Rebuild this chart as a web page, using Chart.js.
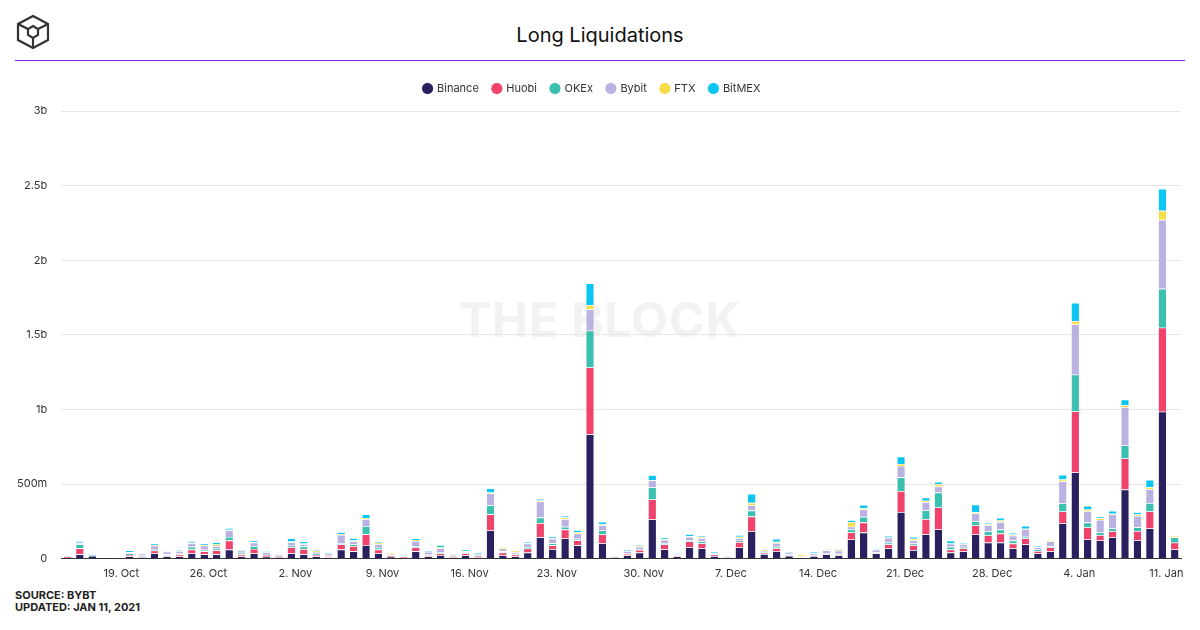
<!DOCTYPE html>
<html><head><meta charset="utf-8">
<script src="https://cdn.jsdelivr.net/npm/chart.js@4"></script>
<style>
body{margin:0;width:1200px;height:630px;background:#fff;font-family:Inter,"Open Sans",sans-serif;position:relative;overflow:hidden}
#title{position:absolute;top:23px;left:0;width:1200px;text-align:center;font-size:20px;color:#111}
#rule{position:absolute;top:60px;left:15px;width:1170px;height:1px;background:#9b1fe8}
#wm{position:absolute;top:290px;left:0;width:1200px;text-align:center;font-size:48px;font-weight:bold;color:#f2f2f2;letter-spacing:1px}
#wrap{position:absolute;top:69px;left:0;width:1196px;height:519px}
#foot{position:absolute;left:15px;top:589px;font-size:11px;font-weight:bold;color:#222;line-height:12px}
#logo{position:absolute;left:15px;top:14px}
</style></head><body>
<svg id="logo" width="36" height="36" viewBox="0 0 36 36"><g fill="none" stroke="#333" stroke-width="2.2"><polygon points="18,2 33,10 33,26 18,34 3,26 3,10"/><polygon points="18,12 23,15 23,21 18,24 13,21 13,15"/><line x1="3" y1="10" x2="13" y2="15"/><line x1="33" y1="10" x2="23" y2="15"/><line x1="18" y1="34" x2="18" y2="24"/></g></svg>
<div id="title">Long Liquidations</div>
<div id="rule"></div>
<div id="wm">THE BLOCK</div>
<div id="wrap"><canvas id="c"></canvas></div>
<div id="foot">SOURCE: BYBT<br>UPDATED: JAN 11, 2021</div>
<script>
const categories = [
"15. Oct","16. Oct","17. Oct","18. Oct","19. Oct","20. Oct","21. Oct","22. Oct","23. Oct","24. Oct","25. Oct","26. Oct","27. Oct","28. Oct","29. Oct","30. Oct","31. Oct",
"1. Nov","2. Nov","3. Nov","4. Nov","5. Nov","6. Nov","7. Nov","8. Nov","9. Nov","10. Nov","11. Nov","12. Nov","13. Nov","14. Nov","15. Nov","16. Nov","17. Nov","18. Nov","19. Nov","20. Nov","21. Nov","22. Nov","23. Nov","24. Nov","25. Nov","26. Nov","27. Nov","28. Nov","29. Nov","30. Nov",
"1. Dec","2. Dec","3. Dec","4. Dec","5. Dec","6. Dec","7. Dec","8. Dec","9. Dec","10. Dec","11. Dec","12. Dec","13. Dec","14. Dec","15. Dec","16. Dec","17. Dec","18. Dec","19. Dec","20. Dec","21. Dec","22. Dec","23. Dec","24. Dec","25. Dec","26. Dec","27. Dec","28. Dec","29. Dec","30. Dec","31. Dec",
"1. Jan","2. Jan","3. Jan","4. Jan","5. Jan","6. Jan","7. Jan","8. Jan","9. Jan","10. Jan","11. Jan","12. Jan"];
const tickLabels = ["19. Oct","26. Oct","2. Nov","9. Nov","16. Nov","23. Nov","30. Nov","7. Dec","14. Dec","21. Dec","28. Dec","4. Jan","11. Jan"];
const binance = [6,30,20,0,0,16,10,36,16,16,36,30,30,62,16,36,14,
6,36,30,16,8,62,50,92,36,14,6,50,16,24,10,22,10,190,22,16,42,144,64,136,90,833,103,10,22,42,
264,63,16,76,69,18,4,76,185,31,51,20,9,18,29,22,130,176,36,69,313,58,163,197,42,49,163,109,109,69,96,
36,49,237,578,130,123,143,464,123,203,985,63];
const huobi = [8,40,0,0,0,10,6,18,6,12,26,20,26,60,12,30,12,
6,40,34,10,10,34,34,72,26,8,6,26,8,12,8,14,10,108,20,12,26,94,26,60,34,449,60,0,11,18,
134,33,4,40,34,9,6,36,98,9,18,4,2,4,5,9,47,67,4,27,141,33,103,147,20,20,60,47,60,33,40,
16,27,80,409,80,36,42,208,63,114,563,45];
const okex = [2,26,6,0,0,10,6,6,8,8,18,10,12,24,12,18,4,
2,12,18,8,4,8,12,54,12,2,2,8,6,8,2,6,0,60,8,6,10,38,14,18,10,246,27,5,5,6,
80,9,4,9,13,3,0,9,40,4,11,4,2,4,4,5,20,38,4,13,92,11,58,100,18,11,27,27,27,20,11,
11,7,54,246,33,18,18,87,25,56,261,36];
const bybit = [6,8,0,0,0,6,12,28,18,16,24,28,16,44,14,24,14,
12,22,16,12,12,56,20,48,24,6,4,36,16,28,8,8,8,80,18,10,24,108,30,52,34,143,36,3,13,14,
47,22,4,22,22,6,8,18,36,9,25,13,4,9,18,18,18,49,18,31,76,22,56,40,22,18,54,40,49,33,51,
13,33,147,337,74,83,94,257,76,94,462,4];
const ftx = [4,4,0,0,0,4,0,4,2,4,4,4,12,4,2,4,2,
2,6,4,8,2,4,6,8,10,10,0,4,2,6,0,2,0,6,10,10,4,6,4,10,10,29,5,0,3,8,
3,5,2,4,8,2,2,8,16,6,9,2,10,2,3,9,31,9,2,2,13,11,9,16,0,2,9,9,11,7,4,
4,9,13,22,13,11,4,13,9,13,60,9];
const bitmex = [0,10,2,0,0,10,2,10,6,6,10,10,14,12,6,10,4,
2,20,14,8,6,14,16,24,8,2,4,12,4,14,6,10,12,28,0,0,8,12,10,12,14,145,17,2,9,4,
32,9,8,14,8,9,0,12,60,4,20,4,0,10,4,4,13,22,5,12,49,11,20,16,20,7,49,9,18,11,18,
7,2,31,123,25,11,20,38,16,49,147,2];
const yTicks = {0:"0",500:"500m",1000:"1b",1500:"1.5b",2000:"2b",2500:"2.5b",3000:"3b"};
const series = [["Binance",binance,"#2a2060"],["Huobi",huobi,"#f0436b"],["OKEx",okex,"#3bbfae"],["Bybit",bybit,"#b9b2e2"],["FTX",ftx,"#f8dc48"],["BitMEX",bitmex,"#0bc6f2"]];
Chart.defaults.font.family = "Inter, 'Open Sans', sans-serif";
const legendPad = {id:'legendPad',beforeInit(chart){const fit=chart.legend.fit;chart.legend.fit=function(){fit.call(this);this.height+=7;};}};
new Chart(document.getElementById('c'), {
  type:'bar',
  data:{labels:categories, datasets:series.map(s=>({label:s[0],data:s[1],backgroundColor:s[2],borderColor:'#ffffff',borderWidth:{top:0.6,bottom:0,left:0,right:0},barPercentage:0.6,categoryPercentage:1}))},
  plugins:[legendPad],
  options:{responsive:true,maintainAspectRatio:false,animation:false,
    layout:{padding:{left:3,right:15,top:0,bottom:0}},
    plugins:{legend:{position:'top',labels:{usePointStyle:true,pointStyle:'circle',boxWidth:8,boxHeight:8,padding:14,color:'#333',font:{size:11}}},tooltip:{enabled:false}},
    scales:{
      x:{stacked:true,grid:{display:false,drawTicks:false},border:{color:'#333'},
         ticks:{autoSkip:false,maxRotation:0,labelOffset:4,color:'#333',font:{size:11},padding:8,callback:function(v){const l=categories[v];return tickLabels.includes(l)?l:'';}}},
      y:{stacked:true,min:0,max:3000,grid:{color:'#e6e6e6',drawTicks:false},border:{display:false},
         ticks:{stepSize:500,color:'#333',font:{size:11},padding:14,callback:v=>yTicks[v]}}
    }}
});
</script></body></html>
